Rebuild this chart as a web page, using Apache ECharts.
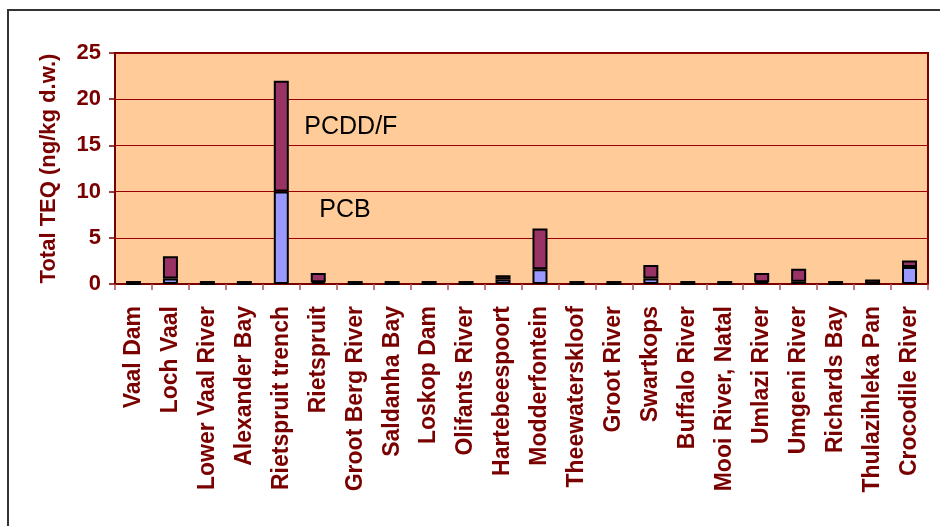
<!DOCTYPE html>
<html>
<head>
<meta charset="utf-8">
<script src="https://cdn.jsdelivr.net/npm/echarts@6/dist/echarts.min.js"></script>
<style>
html,body{margin:0;padding:0;background:#fff;}
#c{width:940px;height:526px;}
</style>
</head>
<body>
<div id="c"></div>
<script>
const categories = ["Vaal Dam","Loch Vaal","Lower Vaal River","Alexander Bay","Rietspruit trench","Rietspruit","Groot Berg River","Saldanha Bay","Loskop Dam","Olifants River","Hartebeespoort","Modderfontein","Theewaterskloof","Groot River","Swartkops","Buffalo River","Mooi River, Natal","Umlazi River","Umgeni River","Richards Bay","Thulazihleka Pan","Crocodile River"];
const pcb  = [0.02, 0.6, 0.02, 0.02, 10, 0.2, 0.02, 0.02, 0.02, 0.02, 0.5, 1.6, 0.02, 0.02, 0.6, 0.02, 0.02, 0.2, 0.25, 0.02, 0.03, 1.85];
const pcdd = [0.3, 2.4, 0.3, 0.3, 12, 1.0, 0.3, 0.3, 0.3, 0.3, 0.45, 4.4, 0.3, 0.3, 1.45, 0.3, 0.3, 1.0, 1.4, 0.3, 0.45, 0.7];
const yTicks = [0, 5, 10, 15, 20, 25];
const yTitle = "Total TEQ (ng/kg d.w.)";
const annotations = [
  {text: "PCDD/F", cat: "Rietspruit trench", y: 17, dx: 23},
  {text: "PCB", cat: "Rietspruit trench", y: 8, dx: 38}
];

const dark = "#7a0000";
const chart = echarts.init(document.getElementById('c'));
const option = {
  animation: false,
  backgroundColor: "#fff",
  grid: {left: 115, right: 12, top: 53, bottom: 242, show: true,
         backgroundColor: "#FFCC99", borderColor: dark, borderWidth: 2},
  xAxis: {
    type: "category", data: categories,
    axisLine: {lineStyle: {color: dark, width: 2}},
    axisTick: {show: true, length: 6, lineStyle: {color: "#b05050", width: 1.5}},
    axisLabel: {rotate: 90, interval: 0, margin: 22, color: dark,
                fontFamily: "Liberation Sans", fontWeight: "bold", fontSize: 23}
  },
  yAxis: {
    type: "value", min: yTicks[0], max: yTicks[yTicks.length-1], interval: 5,
    name: yTitle, nameLocation: "middle", nameGap: 55, nameRotate: 90,
    nameTextStyle: {color: dark, fontFamily: "Liberation Sans", fontWeight: "bold", fontSize: 22},
    axisLine: {show: true, lineStyle: {color: dark, width: 2}},
    axisTick: {show: true, length: 6, lineStyle: {color: dark, width: 1.5}},
    axisLabel: {margin: 14, color: dark, fontFamily: "Liberation Sans", fontWeight: "bold", fontSize: 22},
    splitLine: {lineStyle: {color: "#990000", width: 1.2}}
  },
  series: [
    {name: "PCB", type: "bar", stack: "t", data: pcb, barWidth: 15,
     itemStyle: {color: "#9999FF", borderColor: "#000", borderWidth: 2}},
    {name: "PCDD/F", type: "bar", stack: "t", data: pcdd, barWidth: 15,
     itemStyle: {color: "#993366", borderColor: "#000", borderWidth: 2}}
  ],
  graphic: [
    {type: "rect", shape: {x: 8, y: 10, width: 1000, height: 1000}, z: 100,
     style: {fill: null, stroke: "#333", lineWidth: 2}}
  ]
};
chart.setOption(option);
const g = option.graphic.slice();
annotations.forEach(a => {
  const p = chart.convertToPixel({gridIndex: 0}, [a.cat, a.y]);
  g.push({type: "text", x: p[0] + a.dx, y: p[1], z: 100,
          style: {text: a.text, fill: "#000", font: "25px 'Liberation Sans'", textVerticalAlign: "middle"}});
});
chart.setOption({graphic: g});
</script>
</body>
</html>
